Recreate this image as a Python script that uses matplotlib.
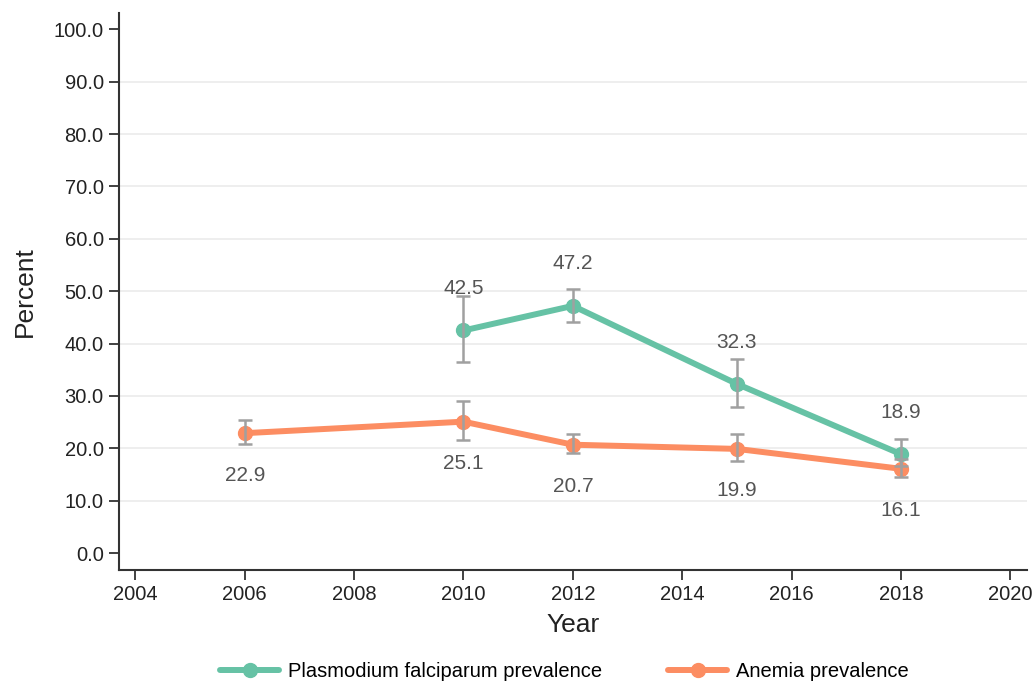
import numpy as np
import matplotlib
matplotlib.use("Agg")
import matplotlib.pyplot as plt

# survey estimates with 95% confidence bounds
pf_years = [2010, 2012, 2015, 2018]
pf_value = [42.5, 47.2, 32.3, 18.9]
pf_low = [36.4, 44.2, 27.9, 16.6]
pf_high = [49.0, 50.4, 37.1, 21.7]

an_years = [2006, 2010, 2012, 2015, 2018]
an_value = [22.9, 25.1, 20.7, 19.9, 16.1]
an_low = [20.8, 21.6, 19.2, 17.5, 14.6]
an_high = [25.5, 29.0, 22.7, 22.7, 17.9]

plt.rcParams['font.family'] = ['Liberation Sans', 'DejaVu Sans']

green = '#66c2a5'
orange = '#fc8d62'
label_col = '#555555'

fig = plt.figure(figsize=(10.34, 6.85), dpi=100)
ax = fig.add_axes([0.115, 0.168, 0.878, 0.813])

for yv in range(10, 100, 10):
    ax.axhline(yv, color='#ebebeb', lw=1.2, zorder=0)

def draw_series(years, vals, lo, hi, color, label, above):
    vals = np.array(vals)
    yerr = [vals - np.array(lo), np.array(hi) - vals]
    ax.plot(years, vals, color=color, lw=4.3, marker='o', ms=10,
            label=label, zorder=2, solid_capstyle='round')
    ax.errorbar(years, vals, yerr=yerr, fmt='none', ecolor='#a0a0a0',
                elinewidth=1.8, capsize=5, capthick=1.8, zorder=3)
    off = 8 if above else -8
    for x, v in zip(years, vals):
        ax.text(x, v + off, f'{v:.1f}', ha='center', va='center',
                fontsize=15, color=label_col)

draw_series(pf_years, pf_value, pf_low, pf_high, green,
            'Plasmodium falciparum prevalence', True)
draw_series(an_years, an_value, an_low, an_high, orange,
            'Anemia prevalence', False)

ax.set_xlim(2003.7, 2020.3)
ax.set_ylim(-3.2, 103.1)
ax.set_xticks(range(2004, 2021, 2))
ax.set_yticks(range(0, 101, 10))
ax.set_yticklabels([f'{v:.1f}' for v in range(0, 101, 10)])

for s in ['top', 'right']:
    ax.spines[s].set_visible(False)
for s in ['left', 'bottom']:
    ax.spines[s].set_color('#333333')
    ax.spines[s].set_linewidth(1.5)
ax.tick_params(axis='both', direction='out', length=7, width=1.3,
               color='#333333', labelsize=14.5, labelcolor='#222222', pad=4)

ax.set_xlabel('Year', fontsize=19, color='#222222', labelpad=6)
ax.set_ylabel('Percent', fontsize=19, color='#222222', labelpad=12)

fig.legend(loc='lower center', bbox_to_anchor=(0.546, -0.02), ncol=2,
           frameon=False, fontsize=14.5, handlelength=2.9, columnspacing=3.3,
           handletextpad=0.45)

fig.savefig('out.png', dpi=100, facecolor='white')
